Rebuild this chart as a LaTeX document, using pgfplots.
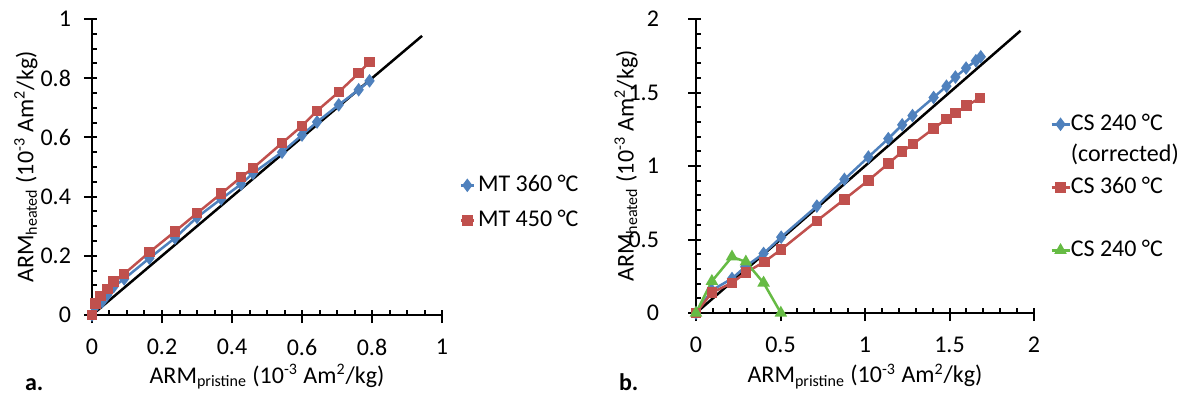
\documentclass[border=0pt]{standalone}
\usepackage{fontspec}
\setmainfont{Carlito}
\usepackage{pgfplots}
\pgfplotsset{compat=1.18}
\definecolor{xblue}{HTML}{4F81BD}
\definecolor{xred}{HTML}{C0504D}
\definecolor{xgreen}{HTML}{66BB44}
\pgfplotsset{
  mystyle/.style={
    scale only axis, anchor=south west, clip=false,
    axis x line=bottom, axis y line=left,
    axis line style={-, line width=1.1pt, black},
    tick style={line width=1pt, black},
    tick align=inside, major tick length=2.5pt, minor tick length=2.5pt,
    /pgf/number format/assume math mode=true,
    tick label style={font=\fontsize{12}{14}\selectfont},
    xticklabel style={yshift=-8.5pt},
    yticklabel style={xshift=-7pt},
    every axis x label/.style={at={(axis description cs:0.5,-0.23)}, anchor=base, font=\fontsize{12}{14}\selectfont},
    legend style={draw=none, fill=none, font=\fontsize{12}{15}\selectfont, inner sep=0pt, anchor=north west,
      nodes={inner sep=0pt, text height=9pt, text depth=3pt}, column sep=1.5pt},
    legend cell align=left,
    every axis plot/.append style={line width=1.25pt},
  }
}
\begin{document}
\begin{tikzpicture}
\begin{axis}[mystyle,
  at={(46pt,41pt)}, width=175pt, height=148pt,
  xmin=0, xmax=1, ymin=0, ymax=1,
  xtick={0,0.2,...,1}, ytick={0,0.2,...,1},
  minor x tick num=3, minor y tick num=3,
  extra x ticks={0,0.2,0.4,0.6,0.8,1}, extra x tick labels={},
  extra y ticks={0,0.2,0.4,0.6,0.8,1}, extra y tick labels={},
  extra tick style={tick align=outside, major tick length=4pt},
  xlabel={ARM\textsubscript{pristine} (10\textsuperscript{-3} Am\textsuperscript{2}/kg)},
  every axis y label/.style={at={(axis description cs:-0.189,0.5)}, rotate=90, anchor=center, font=\fontsize{12}{14}\selectfont},
  ylabel={ARM\textsubscript{heated} (10\textsuperscript{-3} Am\textsuperscript{2}/kg)},
  legend style={at={(axis description cs:1.049,0.48)}, row sep=5.5pt},
  legend image code/.code={\draw[mark repeat=2,mark phase=2] plot coordinates {(0pt,0pt) (3.25pt,0pt) (6.5pt,0pt)};},
]
\addplot[black, forget plot] coordinates {(0,0) (0.943,0.943)};
\addplot[xblue, mark=diamond*, mark size=2.4pt] coordinates {
(0,0) (0.011,0.030) (0.029,0.045) (0.044,0.068) (0.062,0.096) (0.092,0.122)
(0.164,0.192) (0.237,0.260) (0.300,0.330) (0.369,0.392) (0.426,0.442) (0.460,0.479)
(0.543,0.550) (0.600,0.608) (0.643,0.652) (0.705,0.710) (0.762,0.761) (0.793,0.791)};
\addlegendentry{MT 360 °C}
\addplot[xred, mark=square*, mark size=2pt] coordinates {
(0,0) (0.0095,0.039) (0.025,0.065) (0.044,0.087) (0.061,0.113) (0.092,0.139)
(0.164,0.212) (0.237,0.282) (0.300,0.344) (0.369,0.410) (0.426,0.466) (0.460,0.496)
(0.543,0.581) (0.600,0.639) (0.643,0.690) (0.705,0.753) (0.762,0.817) (0.793,0.855)};
\addlegendentry{MT 450 °C}
\end{axis}
\begin{axis}[mystyle,
  at={(348pt,42pt)}, width=169pt, height=147pt,
  xmin=0, xmax=2, ymin=0, ymax=2,
  xtick={0,0.5,...,2}, ytick={0,0.5,...,2},
  minor x tick num=4, minor y tick num=4,
  extra x ticks={0,0.5,1,1.5,2}, extra x tick labels={},
  extra y ticks={0,0.5,1,1.5,2}, extra y tick labels={},
  extra tick style={tick align=outside, major tick length=4pt},
  yticklabel style={xshift=-8pt},
  every axis x label/.style={at={(axis description cs:0.5,-0.238)}, anchor=base, font=\fontsize{12}{14}\selectfont},
  xlabel={ARM\textsubscript{pristine} (10\textsuperscript{-3} Am\textsuperscript{2}/kg)},
  every axis y label/.style={at={(axis description cs:-0.207,0.5)}, rotate=90, anchor=center, font=\fontsize{12}{14}\selectfont},
  ylabel={ARM\textsubscript{heated} (10\textsuperscript{-3} Am\textsuperscript{2}/kg)},
  legend style={at={(axis description cs:1.047,0.684)}, row sep=3.75pt, column sep=0pt},
  legend image code/.code={\draw[mark repeat=2,mark phase=2] plot coordinates {(0pt,0pt) (4.5pt,0pt) (9pt,0pt)};},
]
\addplot[black, forget plot] coordinates {(0,0) (1.92,1.92)};
\addplot[xblue, mark=diamond*, mark size=2.4pt] coordinates {
(0,0) (0.094,0.155) (0.213,0.234) (0.291,0.314) (0.400,0.405) (0.504,0.516)
(0.715,0.727) (0.878,0.909) (1.020,1.061) (1.138,1.186) (1.220,1.280) (1.281,1.343)
(1.406,1.466) (1.482,1.543) (1.535,1.605) (1.598,1.666) (1.656,1.716) (1.685,1.743)};
\addlegendentry{CS 240 °C}
\addlegendimage{empty legend}
\addlegendentry{(corrected)}
\addplot[xred, mark=square*, mark size=2pt] coordinates {
(0,0) (0.094,0.139) (0.213,0.205) (0.295,0.275) (0.404,0.348) (0.504,0.432)
(0.715,0.627) (0.878,0.773) (1.020,0.902) (1.138,1.016) (1.220,1.098) (1.285,1.150)
(1.406,1.255) (1.482,1.320) (1.535,1.359) (1.602,1.411) (1.679,1.461)};
\addlegendentry{CS 360 °C}
\addlegendimage{empty legend}
\addlegendentry{\strut}
\addplot[xgreen, mark=triangle*, mark size=2.4pt] coordinates {
(0,0) (0.094,0.216) (0.213,0.382) (0.295,0.348) (0.400,0.205) (0.502,0)};
\addlegendentry{CS 240 °C}
\end{axis}
\node[anchor=base west, font=\fontsize{12}{14}\selectfont\bfseries] at (9pt,3.5pt) {a.};
\node[anchor=base west, font=\fontsize{12}{14}\selectfont\bfseries] at (306pt,3.5pt) {b.};
\pgfresetboundingbox
\useasboundingbox (0,0) rectangle (592pt,198.5pt);
\end{tikzpicture}
\end{document}
